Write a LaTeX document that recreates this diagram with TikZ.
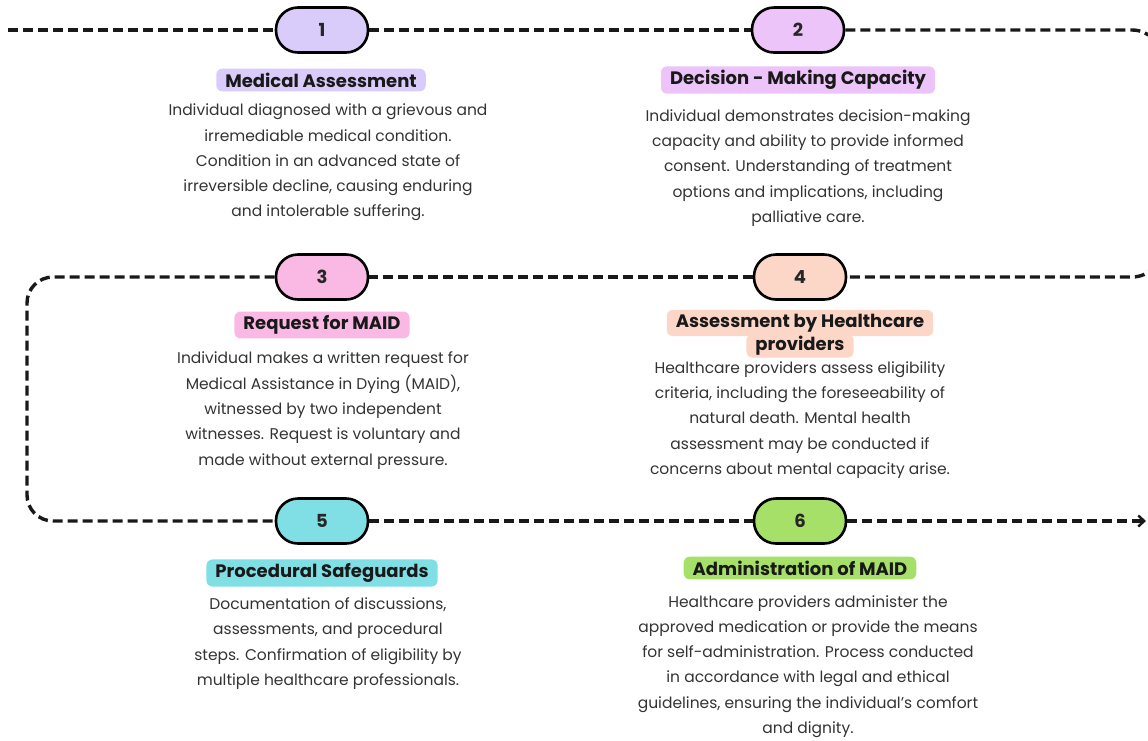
\documentclass[tikz,border=0pt]{standalone}
\usepackage{fontspec}
\setmainfont{Poppins}
\usetikzlibrary{arrows.meta}
\definecolor{cA}{HTML}{D9CCFA}
\definecolor{cB}{HTML}{EDC4F9}
\definecolor{cC}{HTML}{F9B9E4}
\definecolor{cD}{HTML}{FCD6C6}
\definecolor{cE}{HTML}{80DFE4}
\definecolor{cF}{HTML}{A7E068}
\definecolor{bodygray}{HTML}{333333}
\tikzset{
  pill/.style={draw=black, line width=2.6pt, rounded corners=22pt, minimum width=92pt, minimum height=45pt, inner sep=0pt, font=\bfseries\fontsize{18}{20}\selectfont, text=black!85},
  ttl/.style={rounded corners=6pt, inner xsep=9pt, inner ysep=4pt, font=\bfseries\fontsize{18}{21}\selectfont, text=black!90},
  body/.style={align=center, text=bodygray, font=\fontsize{15.5}{25.3}\selectfont, inner sep=0pt},
  flow/.style={line width=3.4pt, dash pattern=on 10pt off 5pt, black!90}
}
\begin{document}
\begin{tikzpicture}[x=1pt,y=-1pt]
\useasboundingbox (0,0) rectangle (1148,740);
\clip (0,0) rectangle (1148,740);
% pills
\node[pill, fill=cA] (p1) at (322,30) {1};
\node[pill, fill=cB] (p2) at (798,30) {2};
\node[pill, fill=cC] (p3) at (322,277) {3};
\node[pill, fill=cD] (p4) at (800,277) {4};
\node[pill, fill=cE] (p5) at (322,521) {5};
\node[pill, fill=cF] (p6) at (800,521) {6};
% connectors
\coordinate (s) at (8,30);
\coordinate (tr) at (1162,30);
\coordinate (mr) at (1162,277);
\coordinate (ml) at (27,277);
\coordinate (bl) at (27,521);
\coordinate (e) at (1146,521);
\draw[flow] (s) -- (p1);
\draw[flow] (p1) -- (p2);
\draw[flow, rounded corners=30pt] (p2) -- (tr) -- (mr) -- (p4);
\draw[flow] (p4) -- (p3);
\draw[flow, rounded corners=26pt] (p3) -- (ml) -- (bl) -- (p5);
\draw[flow] (p5) -- (p6);
\draw[flow, -{Straight Barb[length=6pt,width=11pt,line width=2.4pt]}] (p6) -- (e);
% titles
\node[ttl, fill=cA] (t1) at (321,80) {Medical Assessment};
\node[ttl, fill=cB] (t2) at (798,80) {Decision - Making Capacity};
\node[ttl, fill=cC] (t3) at (322,325) {Request for MAID};
\node[ttl, fill=cD] (t4a) at (800,323) {Assessment by Healthcare};
\node[ttl, fill=cD, inner ysep=2pt] (t4b) at (800,346) {providers};
\node[ttl, fill=cE] (t5) at (322,573) {Procedural Safeguards};
\node[ttl, fill=cF] (t6) at (800,568) {Administration of MAID};
% bodies
\node[body] (b1) at (328,162.5) {Individual diagnosed with a grievous and\\irremediable medical condition.\\Condition in an advanced state of\\irreversible decline, causing enduring\\and intolerable suffering.};
\node[body] (b2) at (808,168) {Individual demonstrates decision-making\\capacity and ability to provide informed\\consent. Understanding of treatment\\options and implications, including\\palliative care.};
\node[body] (b3) at (323,410.5) {Individual makes a written request for\\Medical Assistance in Dying (MAID),\\witnessed by two independent\\witnesses. Request is voluntary and\\made without external pressure.};
\node[body] (b4) at (800,420) {Healthcare providers assess eligibility\\criteria, including the foreseeability of\\natural death. Mental health\\assessment may be conducted if\\concerns about mental capacity arise.};
\node[body] (b5) at (328,643.5) {Documentation of discussions,\\assessments, and procedural\\steps. Confirmation of eligibility by\\multiple healthcare professionals.};
\node[body] (b6) at (808,666.5) {Healthcare providers administer the\\approved medication or provide the means\\for self-administration. Process conducted\\in accordance with legal and ethical\\guidelines, ensuring the individual's comfort\\and dignity.};
\end{tikzpicture}
\end{document}
